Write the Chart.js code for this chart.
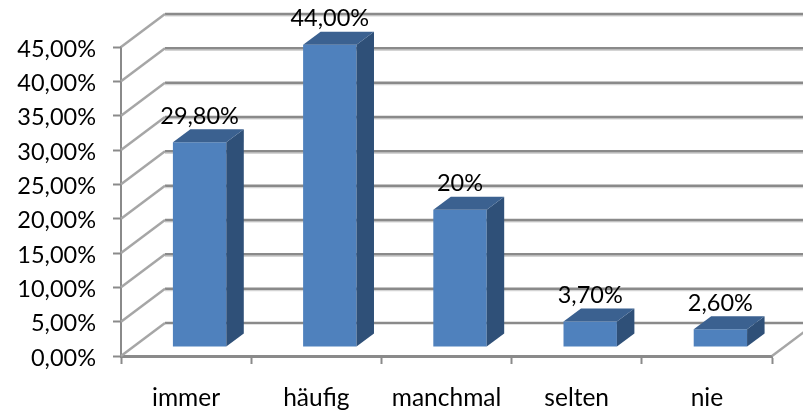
<!DOCTYPE html>
<html>
<head>
<meta charset="utf-8">
<script src="https://cdn.jsdelivr.net/npm/chart.js@4"></script>
<style>html,body{margin:0;padding:0;background:#fff}canvas{display:block}</style>
</head>
<body>
<canvas id="c" width="803" height="415"></canvas>
<script>
const categories = ["immer", "häufig", "manchmal", "selten", "nie"];
const values = [29.8, 44, 20, 3.7, 2.6];
const valueLabels = ["29,80%", "44,00%", "20%", "3,70%", "2,60%"];
const yMax = 45;
const yStep = 5;

const FONT = "Lato, 'Open Sans', sans-serif";
const FONT_SIZE = 23.5;
const WALL = {dx: 44, dy: -33};
const BAR_SHIFT = {dx: 13.5, dy: -9};
const BAR_DEPTH = {dx: 17.5, dy: -13};
const AXIS = "#8a8a8a";

const wallPlugin = {
  id: "wall",
  beforeDatasetsDraw(chart) {
    const {ctx, scales: {x, y}} = chart;
    ctx.save();
    for (let v = 0; v <= yMax; v += yStep) {
      const py = y.getPixelForValue(v);
      const bx = x.left + WALL.dx, by = py + WALL.dy;
      if (v > 0) {
        ctx.strokeStyle = "#d4d4d4"; ctx.lineWidth = 1.5;
        ctx.beginPath(); ctx.moveTo(bx, by + 1.8); ctx.lineTo(x.right + WALL.dx, by + 1.8); ctx.stroke();
      }
      ctx.strokeStyle = AXIS; ctx.lineWidth = 2.5;
      ctx.beginPath(); ctx.moveTo(bx, by); ctx.lineTo(x.right + WALL.dx, by); ctx.stroke();
      ctx.strokeStyle = "#a6a6a6"; ctx.lineWidth = 2.5;
      ctx.beginPath(); ctx.moveTo(x.left, py); ctx.lineTo(bx, by); ctx.stroke();
    }
    const p0 = y.getPixelForValue(0);
    ctx.beginPath(); ctx.moveTo(x.right, p0); ctx.lineTo(x.right + WALL.dx, p0 + WALL.dy); ctx.stroke();
    ctx.restore();
  },
  beforeDatasetDraw(chart) {
    chart.ctx.save();
    chart.ctx.translate(BAR_SHIFT.dx, BAR_SHIFT.dy);
  },
  afterDatasetDraw(chart) {
    const ctx = chart.ctx;
    chart.getDatasetMeta(0).data.forEach((bar) => {
      const {x, y, base, width} = bar.getProps(["x", "y", "base", "width"]);
      const r = x + width / 2, l = x - width / 2;
      const d = BAR_DEPTH;
      ctx.fillStyle = "#2f5078";
      ctx.beginPath();
      ctx.moveTo(r, y); ctx.lineTo(r + d.dx, y + d.dy);
      ctx.lineTo(r + d.dx, base + d.dy); ctx.lineTo(r, base); ctx.closePath(); ctx.fill();
      ctx.fillStyle = "#3b6190";
      ctx.beginPath();
      ctx.moveTo(l, y); ctx.lineTo(l + d.dx, y + d.dy);
      ctx.lineTo(r + d.dx, y + d.dy); ctx.lineTo(r, y); ctx.closePath(); ctx.fill();
    });
    ctx.restore();
    ctx.save();
    ctx.fillStyle = "#000";
    ctx.font = FONT_SIZE + "px " + FONT;
    ctx.textAlign = "center";
    ctx.textBaseline = "middle";
    chart.getDatasetMeta(0).data.forEach((bar, i) => {
      const {x, y} = bar.getProps(["x", "y"]);
      ctx.fillText(valueLabels[i], x + BAR_SHIFT.dx, y + BAR_SHIFT.dy - 26);
    });
    ctx.restore();
  }
};

new Chart(document.getElementById("c"), {
  type: "bar",
  data: {
    labels: categories,
    datasets: [{
      data: values,
      backgroundColor: "#4f81bd",
      borderWidth: 0,
      barPercentage: 0.82,
      categoryPercentage: 0.5,
      clip: false
    }]
  },
  plugins: [wallPlugin],
  options: {
    responsive: false,
    animation: false,
    layout: {padding: {top: 47, right: 31, left: 0, bottom: 0}},
    plugins: {legend: {display: false}, title: {display: false}, tooltip: {enabled: false}},
    scales: {
      x: {
        afterFit(s) { s.height = 59; },
        grid: {drawOnChartArea: false, drawTicks: true, tickLength: 8, tickColor: AXIS, tickWidth: 2},
        border: {color: AXIS, width: 3},
        ticks: {color: "#000", font: {family: FONT, size: 24.5}, padding: 19.5, maxRotation: 0}
      },
      y: {
        min: 0, max: yMax,
        afterFit(s) { s.width = 121; },
        grid: {drawOnChartArea: false, drawTicks: true, tickLength: 8, tickColor: AXIS, tickWidth: 2},
        border: {color: AXIS, width: 2},
        ticks: {
          stepSize: yStep, color: "#000", padding: 17, labelOffset: 2,
          font: {family: FONT, size: FONT_SIZE},
          callback: (v) => v.toFixed(2).replace(".", ",") + "%"
        }
      }
    }
  }
});
</script>
</body>
</html>
